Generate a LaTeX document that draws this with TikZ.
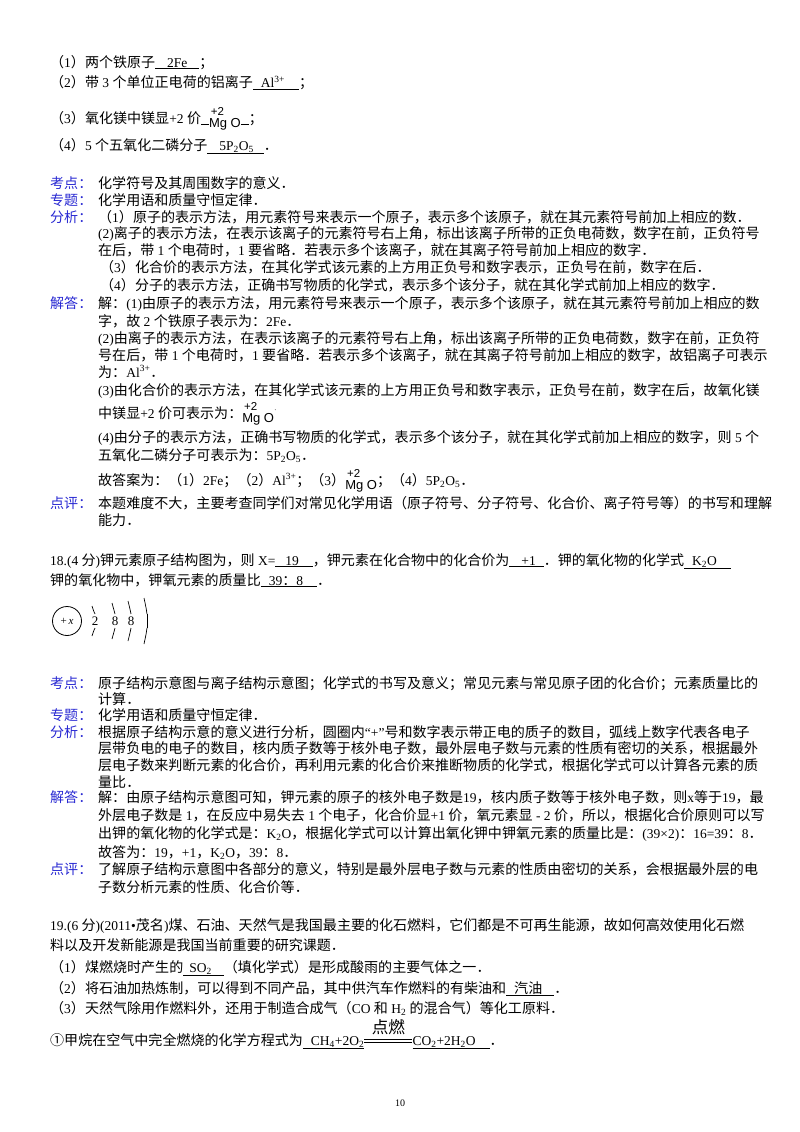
\documentclass[tikz,border=0pt]{standalone}
\usepackage{fontspec}
\usetikzlibrary{calc}
\setmainfont{Liberation Serif}
\newfontfamily\cjk{Noto Sans CJK SC}[Scale=1.04]
\newfontfamily\mgofont{Liberation Sans}
\XeTeXinterchartokenstate=1
\newXeTeXintercharclass\cjkclass
\makeatletter
\def\setcjkrange#1#2{\count@=#1\relax\loop\XeTeXcharclass\count@=\cjkclass\ifnum\count@<#2\advance\count@ 1\repeat}
\makeatother
\setcjkrange{"4E00}{"9FFF}
\setcjkrange{"FF00}{"FFEF}
\setcjkrange{"3000}{"303F}
\XeTeXcharclass"2460=\cjkclass
\XeTeXinterchartoks 0 \cjkclass = {\begingroup\cjk}
\XeTeXinterchartoks 4095 \cjkclass = {\begingroup\cjk}
\XeTeXinterchartoks \cjkclass 0 = {\endgroup}
\XeTeXinterchartoks \cjkclass 4095 = {\endgroup}
\definecolor{lab}{RGB}{40,40,210}
\newcommand\ans[3]{\underline{\hspace{#1}#2\hspace{#3}}}
\newcommand\mgo{\raisebox{-4pt}{\mgofont\shortstack[l]{\fontsize{11.5}{11}\selectfont\,+2\\[-1pt]\fontsize{13}{13}\selectfont Mg O}}}
\newcommand\sub[1]{\textsubscript{#1}}
\tikzset{tx/.style={anchor=base west,inner sep=0pt,font=\fontsize{13.5}{17}\selectfont},
  lb/.style={tx,text=lab}}
\begin{document}
\begin{tikzpicture}[x=1pt,y=-1pt]
\useasboundingbox (0,0) rectangle (800,1132);
\node[tx] (a1) at (50,67) {（1）两个铁原子\ans{12pt}{2Fe}{12pt}；};
\node[tx] (a2) at (50,88) {（2）带 3 个单位正电荷的铝离子\ans{8pt}{Al\textsuperscript{3+}}{14pt}；};
\node[tx] (a3) at (50,123) {（3）氧化镁中镁显+2 价\ans{8pt}{}{0pt}\mgo\ans{8pt}{}{0pt}；};
\node[tx] (a4) at (50,150) {（4）5 个五氧化二磷分子\ans{12pt}{5P\sub{2}O\sub{5}}{10pt}．};
% labels
\node[lb] (k1) at (50,188) {考点：};
\node[lb] (z1) at (50,205) {专题：};
\node[lb] (f1) at (50,222) {分析：};
\node[lb] (j1) at (50,308) {解答：};
\node[lb] (d1) at (50,508) {点评：};
\node[tx] (b1) at (98,188) {化学符号及其周围数字的意义．};
\node[tx] (b2) at (98,205) {化学用语和质量守恒定律．};
\node[tx] (b3) at (98,222) {（1）原子的表示方法，用元素符号来表示一个原子，表示多个该原子，就在其元素符号前加上相应的数．};
\node[tx] (b4) at (98,238) {(2)离子的表示方法，在表示该离子的元素符号右上角，标出该离子所带的正负电荷数，数字在前，正负符号};
\node[tx] (b5) at (98,255) {在后，带 1 个电荷时，1 要省略．若表示多个该离子，就在其离子符号前加上相应的数字．};
\node[tx] (b6) at (100,272) {（3）化合价的表示方法，在其化学式该元素的上方用正负号和数字表示，正负号在前，数字在后．};
\node[tx] (b7) at (100,290) {（4）分子的表示方法，正确书写物质的化学式，表示多个该分子，就在其化学式前加上相应的数字．};
\node[tx] (c1) at (98,308) {解：(1)由原子的表示方法，用元素符号来表示一个原子，表示多个该原子，就在其元素符号前加上相应的数};
\node[tx] (c2) at (98,326) {字，故 2 个铁原子表示为：2Fe．};
\node[tx] (c3) at (98,343) {(2)由离子的表示方法，在表示该离子的元素符号右上角，标出该离子所带的正负电荷数，数字在前，正负符};
\node[tx] (c4) at (98,360) {号在后，带 1 个电荷时，1 要省略．若表示多个该离子，就在其离子符号前加上相应的数字，故铝离子可表示};
\node[tx] (c5) at (98,377) {为：Al\textsuperscript{3+}．};
\node[tx] (c6) at (98,395) {(3)由化合价的表示方法，在其化学式该元素的上方用正负号和数字表示，正负号在前，数字在后，故氧化镁};
\node[tx] (c7) at (98,418) {中镁显+2 价可表示为：\mgo$^{\cdot}$};
\node[tx] (c8) at (98,442) {(4)由分子的表示方法，正确书写物质的化学式，表示多个该分子，就在其化学式前加上相应的数字，则 5 个};
\node[tx] (c9) at (98,460) {五氧化二磷分子可表示为：5P\sub{2}O\sub{5}．};
\node[tx] (c10) at (98,485) {故答案为：（1）2Fe；（2）Al\textsuperscript{3+}；（3）\mgo；（4）5P\sub{2}O\sub{5}．};
\node[tx] (d2) at (98,508) {本题难度不大，主要考查同学们对常见化学用语（原子符号、分子符号、化合价、离子符号等）的书写和理解};
\node[tx] (d3) at (98,525) {能力．};
% 18
\node[tx] (q1) at (50,565) {18.(4 分)钾元素原子结构图为，则 X=\ans{10pt}{19}{14pt}，钾元素在化合物中的化合价为\ans{12pt}{+1}{8pt}．钾的氧化物的化学式\ans{8pt}{K\sub{2}O}{14pt}};
\node[tx] (q2) at (50,585) {钾的氧化物中，钾氧元素的质量比\ans{8pt}{39：8}{14pt}．};
% atom
\node[draw,circle,minimum size=29pt,inner sep=0pt,line width=0.8pt,font=\fontsize{11}{11}\selectfont] (nuc) at (67,621) {+\,\textit{x}};
\foreach \x/\h/\n [count=\i] in {95/15/2,115/18/8,131/20/8,147/23/{}}{
  \draw[line width=0.7pt] (\x-3,621-\h) .. controls (\x-1,621-\h*0.6) .. (\x,621-7);
  \draw[line width=0.7pt] (\x-3,621+\h) .. controls (\x-1,621+\h*0.6) .. (\x,621+7);
  \node[font=\fontsize{13}{13}\selectfont,inner sep=0pt] (e\i) at (\x,621) {\n};
}
\draw[line width=0.7pt] (147,614) -- (147,628);
% 18 analysis
\node[lb] (k2) at (50,688) {考点：};
\node[lb] (z2) at (50,720) {专题：};
\node[lb] (f2) at (50,737) {分析：};
\node[lb] (j2) at (50,802) {解答：};
\node[lb] (d4) at (50,874) {点评：};
\node[tx] (g1) at (98,688) {原子结构示意图与离子结构示意图；化学式的书写及意义；常见元素与常见原子团的化合价；元素质量比的};
\node[tx] (g2) at (98,704) {计算．};
\node[tx] (g3) at (98,720) {化学用语和质量守恒定律．};
\node[tx] (g4) at (98,737) {根据原子结构示意的意义进行分析，圆圈内“+”号和数字表示带正电的质子的数目，弧线上数字代表各电子};
\node[tx] (g5) at (98,753) {层带负电的电子的数目，核内质子数等于核外电子数，最外层电子数与元素的性质有密切的关系，根据最外};
\node[tx] (g6) at (98,770) {层电子数来判断元素的化合价，再利用元素的化合价来推断物质的化学式，根据化学式可以计算各元素的质};
\node[tx] (g7) at (98,787) {量比．};
\node[tx] (h1) at (98,802) {解：由原子结构示意图可知，钾元素的原子的核外电子数是19，核内质子数等于核外电子数，则x等于19，最};
\node[tx] (h2) at (98,820) {外层电子数是 1，在反应中易失去 1 个电子，化合价显+1 价，氧元素显 - 2 价，所以，根据化合价原则可以写};
\node[tx] (h3) at (98,838) {出钾的氧化物的化学式是：K\sub{2}O，根据化学式可以计算出氧化钾中钾氧元素的质量比是：(39×2)：16=39：8．};
\node[tx] (h4) at (98,857) {故答为：19，+1，K\sub{2}O，39：8．};
\node[tx] (h5) at (98,874) {了解原子结构示意图中各部分的意义，特别是最外层电子数与元素的性质由密切的关系，会根据最外层的电};
\node[tx] (h6) at (98,892) {子数分析元素的性质、化合价等．};
% 19
\node[tx] (p1) at (50,930) {19.(6 分)(2011•茂名)煤、石油、天然气是我国最主要的化石燃料，它们都是不可再生能源，故如何高效使用化石燃};
\node[tx] (p2) at (50,950) {料以及开发新能源是我国当前重要的研究课题．};
\node[tx] (p3) at (50,972) {（1）煤燃烧时产生的\ans{6pt}{SO\sub{2}}{12pt}（填化学式）是形成酸雨的主要气体之一．};
\node[tx] (p4) at (50,993) {（2）将石油加热炼制，可以得到不同产品，其中供汽车作燃料的有柴油和\ans{8pt}{汽油}{12pt}．};
\node[tx] (p5) at (50,1013) {（3）天然气除用作燃料外，还用于制造合成气（CO 和 H\sub{2} 的混合气）等化工原料．};
\node[tx] (eqA) at (50,1045) {①甲烷在空气中完全燃烧的化学方程式为\ans{8pt}{CH\sub{4}+2O\sub{2}}{0pt}};
\coordinate (m1) at ([yshift=3pt]eqA.base east);
\coordinate (m2) at ([xshift=48pt]m1);
\draw[line width=0.6pt] (m1) -- (m2);
\draw[line width=0.6pt] ([yshift=3pt]m1) -- ([yshift=3pt]m2);
\node[tx,anchor=base,font=\fontsize{16}{16}\selectfont] (fire) at ([yshift=9pt]$(m1)!0.5!(m2)$) {点燃};
\node[tx] (eqC) at ([xshift=48pt]eqA.base east) {\ans{0pt}{CO\sub{2}+2H\sub{2}O}{14pt}．};
\node[font=\fontsize{10}{10}\selectfont] (pg) at (400,1103) {10};
\end{tikzpicture}
\end{document}
